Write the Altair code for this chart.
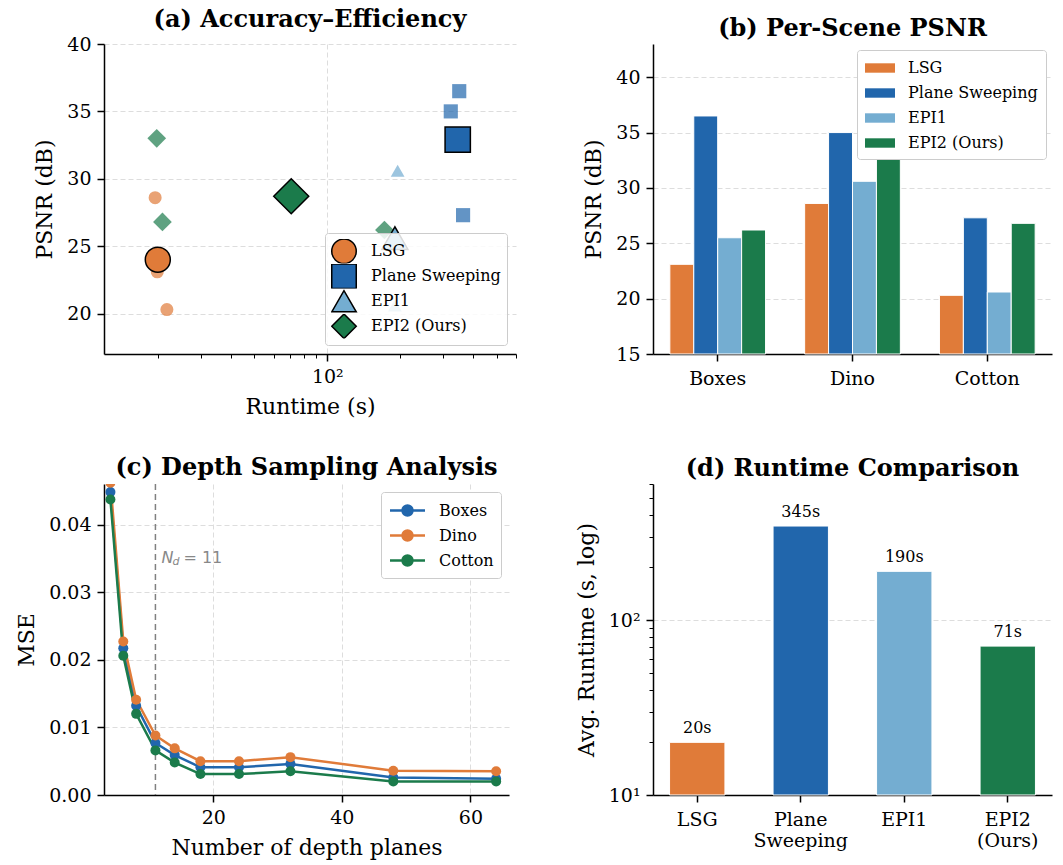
import altair as alt
import pandas as pd

# ---------------- data ----------------
methods = ["LSG", "Plane Sweeping", "EPI1", "EPI2 (Ours)"]
colors = ["#E07B39", "#2166AC", "#74ADD1", "#1B7B4B"]
shapes = ["circle", "square", "triangle-up", "diamond"]
scenes = ["Boxes", "Dino", "Cotton"]

psnr_lsg = [23.1, 28.6, 20.3]
psnr_ps = [36.5, 35.0, 27.3]
psnr_epi1 = [25.5, 30.6, 20.6]
psnr_epi2 = [26.2, 33.0, 26.8]

rt_lsg = [19.9, 19.5, 21.8]
rt_ps = [350, 323, 363]
rt_epi1 = [185, 195, 190]
rt_epi2 = [172, 19.8, 20.9]

mean_psnr = [24.0, 32.9, 25.6, 28.7]
avg_runtime = [20, 345, 190, 71]
runtime_labels = ["20s", "345s", "190s", "71s"]

small_sizes = [170, 200, 190, 350]
big_sizes = [625, 640, 680, 1225]

depth_planes = [4, 6, 8, 11, 14, 18, 24, 32, 48, 64]
mse_boxes = [0.0448, 0.0217, 0.0132, 0.0077, 0.0059, 0.0041, 0.0041, 0.0046, 0.0026, 0.0024]
mse_dino = [0.0462, 0.0227, 0.0141, 0.0088, 0.0069, 0.0050, 0.0050, 0.0056, 0.0036, 0.0035]
mse_cotton = [0.0437, 0.0206, 0.0120, 0.0066, 0.0048, 0.0031, 0.0031, 0.0035, 0.0020, 0.0020]
chosen_nd = 11

log_ticks_a = [20, 30, 40, 50, 60, 70, 80, 90, 100, 200, 300, 400, 500, 600]
log_ticks_d = [10, 20, 30, 40, 50, 60, 70, 80, 90, 100, 200, 300, 400, 500, 600]

FONT = "DejaVu Serif"

# ---------------- tables ----------------
small_rows = []
for m, ps, rts, sz in zip(methods, [psnr_lsg, psnr_ps, psnr_epi1, psnr_epi2],
                          [rt_lsg, rt_ps, rt_epi1, rt_epi2], small_sizes):
    for s, p, r in zip(scenes, ps, rts):
        small_rows.append({"method": m, "scene": s, "psnr": p, "runtime": r, "sz": sz})
small_df = pd.DataFrame(small_rows)
big_df = pd.DataFrame({"method": methods, "psnr": mean_psnr, "runtime": avg_runtime, "sz": big_sizes})

bar_rows = []
for m, ps in zip(methods, [psnr_lsg, psnr_ps, psnr_epi1, psnr_epi2]):
    for s, p in zip(scenes, ps):
        bar_rows.append({"method": m, "scene": s, "psnr": p})
bar_df = pd.DataFrame(bar_rows)

line_rows = []
for s, vals in zip(scenes, [mse_boxes, mse_dino, mse_cotton]):
    for n, v in zip(depth_planes, vals):
        line_rows.append({"scene": s, "planes": n, "mse": v})
line_df = pd.DataFrame(line_rows)

rt_df = pd.DataFrame({"method": methods, "runtime": avg_runtime, "label": runtime_labels})

color_scale = alt.Scale(domain=methods, range=colors)
shape_scale = alt.Scale(domain=methods, range=shapes)

def title(t):
    return alt.TitleParams(t, fontSize=24, fontWeight="bold", font=FONT, anchor="middle",
                           frame="group", offset=3, color="black")

major_a = "datum.value == 100"
xa_axis = alt.Axis(values=log_ticks_a, labelExpr="datum.value == 100 ? '10²' : ''",
                   tickSize={"condition": {"test": major_a, "value": 7}, "value": 4},
                   tickWidth={"condition": {"test": major_a, "value": 1.5}, "value": 1},
                   gridOpacity={"condition": {"test": major_a, "value": 1}, "value": 0},
                   grid=True, labelFlush=False)
xa = alt.X("runtime:Q", title="Runtime (s)",
           scale=alt.Scale(type="log", domain=[12, 600], nice=False), axis=xa_axis)
ya = alt.Y("psnr:Q", title="PSNR (dB)", scale=alt.Scale(domain=[17, 40], nice=False, zero=False),
           axis=alt.Axis(values=[20, 25, 30, 35, 40], grid=True))

small = alt.Chart(small_df).mark_point(filled=True, opacity=0.7).encode(
    x=xa, y=ya,
    color=alt.Color("method:N", scale=color_scale, legend=None),
    shape=alt.Shape("method:N", scale=shape_scale, legend=None),
    size=alt.Size("sz:Q", scale=None, legend=None),
)
leg_a = alt.Legend(title=None, orient="bottom-right", offset=9, symbolSize=600,
                   symbolStrokeWidth=1.5, symbolOpacity=1, clipHeight=24.5,
                   labelFontSize=16, labelFont=FONT, labelColor="black",
                   fillColor="rgba(255,255,255,0.85)", strokeColor="#cccccc",
                   padding=6, rowPadding=0, labelOffset=14, cornerRadius=3)
big = alt.Chart(big_df).mark_point(filled=True, opacity=1, stroke="black", strokeWidth=1.5).encode(
    x=xa, y=ya,
    color=alt.Color("method:N", scale=color_scale, legend=leg_a, sort=methods),
    shape=alt.Shape("method:N", scale=shape_scale, legend=leg_a, sort=methods),
    size=alt.Size("sz:Q", scale=None, legend=None),
)
panel_a = alt.layer(small, big).resolve_legend(color="independent", shape="independent").properties(
    width=412, height=310, title=title("(a) Accuracy–Efficiency"))

# ---------------- (b) ----------------
leg_b = alt.Legend(title=None, orient="top-right", offset=6,
                   symbolType="M-1.5,-0.47H1.5V0.47H-1.5Z", symbolSize=400, symbolStrokeWidth=0,
                   symbolOffset=5,
                   labelFontSize=16, labelFont=FONT, labelColor="black",
                   fillColor="white", strokeColor="#cccccc", padding=8, rowPadding=7,
                   labelOffset=18, cornerRadius=3, symbolOpacity=1)
panel_b = alt.Chart(bar_df).mark_bar(stroke="white", strokeWidth=1).encode(
    x=alt.X("scene:N", sort=scenes, title=None,
            scale=alt.Scale(paddingInner=0.29, paddingOuter=0.125),
            axis=alt.Axis(labelAngle=0, grid=False, labelPadding=8)),
    xOffset=alt.XOffset("method:N", sort=methods, scale=alt.Scale(paddingInner=0, paddingOuter=0)),
    y=alt.Y("psnr:Q", title="PSNR (dB)", scale=alt.Scale(domain=[15, 43], nice=False, zero=False),
            axis=alt.Axis(values=[15, 20, 25, 30, 35, 40], grid=True)),
    y2=alt.datum(15),
    color=alt.Color("method:N", scale=color_scale, legend=leg_b, sort=methods),
).properties(width=399, height=310, title=title("(b) Per-Scene PSNR"))

# ---------------- (c) ----------------
scene_colors = ["#2166AC", "#E07B39", "#1B7B4B"]
leg_c = alt.Legend(title=None, orient="top-right", offset=8,
                   symbolType="M-1.75,0H1.75M-0.5,0A0.5,0.5,0,1,1,0.5,0A0.5,0.5,0,1,1,-0.5,0Z",
                   symbolSize=400, symbolStrokeWidth=2.5, symbolOffset=8,
                   labelFontSize=16, labelFont=FONT, labelColor="black",
                   fillColor="white", strokeColor="#cccccc", padding=7, rowPadding=3,
                   labelOffset=20, cornerRadius=3, symbolOpacity=1)
xc = alt.X("planes:Q", title="Number of depth planes",
           scale=alt.Scale(domain=[3, 66], nice=False, zero=False),
           axis=alt.Axis(values=[20, 40, 60], grid=True))
yc = alt.Y("mse:Q", title="MSE", scale=alt.Scale(domain=[0, 0.046], nice=False),
           axis=alt.Axis(values=[0, 0.01, 0.02, 0.03, 0.04], format=".2f", grid=True))
lines = alt.Chart(line_df).mark_line(strokeWidth=2.5, clip=True,
                                    point=alt.OverlayMarkDef(filled=True, size=100, clip=True)).encode(
    x=xc, y=yc,
    color=alt.Color("scene:N", sort=scenes, scale=alt.Scale(domain=scenes, range=scene_colors), legend=leg_c),
)
nd_df = pd.DataFrame({"planes": [chosen_nd], "mse": [0.035]})
rule = alt.Chart(nd_df).mark_rule(color="#808080", strokeDash=[6, 4], strokeWidth=1.5).encode(x="planes:Q")
txt_n = alt.Chart(nd_df).mark_text(text="N", font="DejaVu Sans", fontStyle="italic", fontSize=16,
                                   color="#888888", align="left", baseline="middle", dx=6).encode(x="planes:Q", y="mse:Q")
txt_d = alt.Chart(nd_df).mark_text(text="d", font="DejaVu Sans", fontStyle="italic", fontSize=11,
                                   color="#888888", align="left", baseline="middle", dx=17, dy=4).encode(x="planes:Q", y="mse:Q")
txt_eq = alt.Chart(nd_df).mark_text(text="= 11", font="DejaVu Sans", fontSize=16,
                                    color="#888888", align="left", baseline="middle", dx=28).encode(x="planes:Q", y="mse:Q")
panel_c = alt.layer(rule, lines, txt_n, txt_d, txt_eq).properties(
    width=405, height=311, title=title("(c) Depth Sampling Analysis"))

# ---------------- (d) ----------------
major_d = "datum.value == 10 || datum.value == 100"
yd_axis = alt.Axis(values=log_ticks_d,
                   labelExpr="datum.value == 10 ? '10¹' : (datum.value == 100 ? '10²' : '')",
                   tickSize={"condition": {"test": major_d, "value": 7}, "value": 4},
                   tickWidth={"condition": {"test": major_d, "value": 1.5}, "value": 1},
                   gridOpacity={"condition": {"test": "datum.value == 100", "value": 1}, "value": 0},
                   grid=True, labelFlush=False)
yd = alt.Y("runtime:Q", title="Avg. Runtime (s, log)",
           scale=alt.Scale(type="log", domain=[10, 600], nice=False), axis=yd_axis)
xd = alt.X("method:N", sort=methods, title=None,
           scale=alt.Scale(paddingInner=0.465, paddingOuter=0.16),
           axis=alt.Axis(labelAngle=0, grid=False, labelExpr="split(datum.label, ' ')", labelPadding=8))
bars_d = alt.Chart(rt_df).mark_bar(stroke="white", strokeWidth=1).encode(
    x=xd, y=yd, y2=alt.datum(10),
    color=alt.Color("method:N", scale=color_scale, legend=None),
)
labels_d = alt.Chart(rt_df).mark_text(fontSize=16, font=FONT, color="black", baseline="alphabetic", dy=-9).encode(
    x=xd, y=yd, text="label:N")
panel_d = alt.layer(bars_d, labels_d).properties(width=399, height=311, title=title("(d) Runtime Comparison"))

chart = alt.concat(panel_a, panel_b, panel_c, panel_d, columns=2,
                   spacing={"row": 39, "column": 58}).resolve_scale(
    color="independent", shape="independent"
).properties(
    padding={"left": 15, "top": 8, "right": 2, "bottom": 2}
).configure(font=FONT).configure_view(stroke=None).configure_axis(
    domainColor="black", domainWidth=1.5, tickColor="black", tickWidth=1.5, tickSize=7,
    labelFontSize=19, labelColor="black", labelFont=FONT,
    titleFontSize=22, titleFontWeight="normal", titleColor="black", titleFont=FONT,
    gridColor="#dddddd", gridDash=[5, 3], gridWidth=1, labelPadding=6, titlePadding=10,
)

chart.save("out.html", embed_options={"renderer": "svg", "actions": False})
